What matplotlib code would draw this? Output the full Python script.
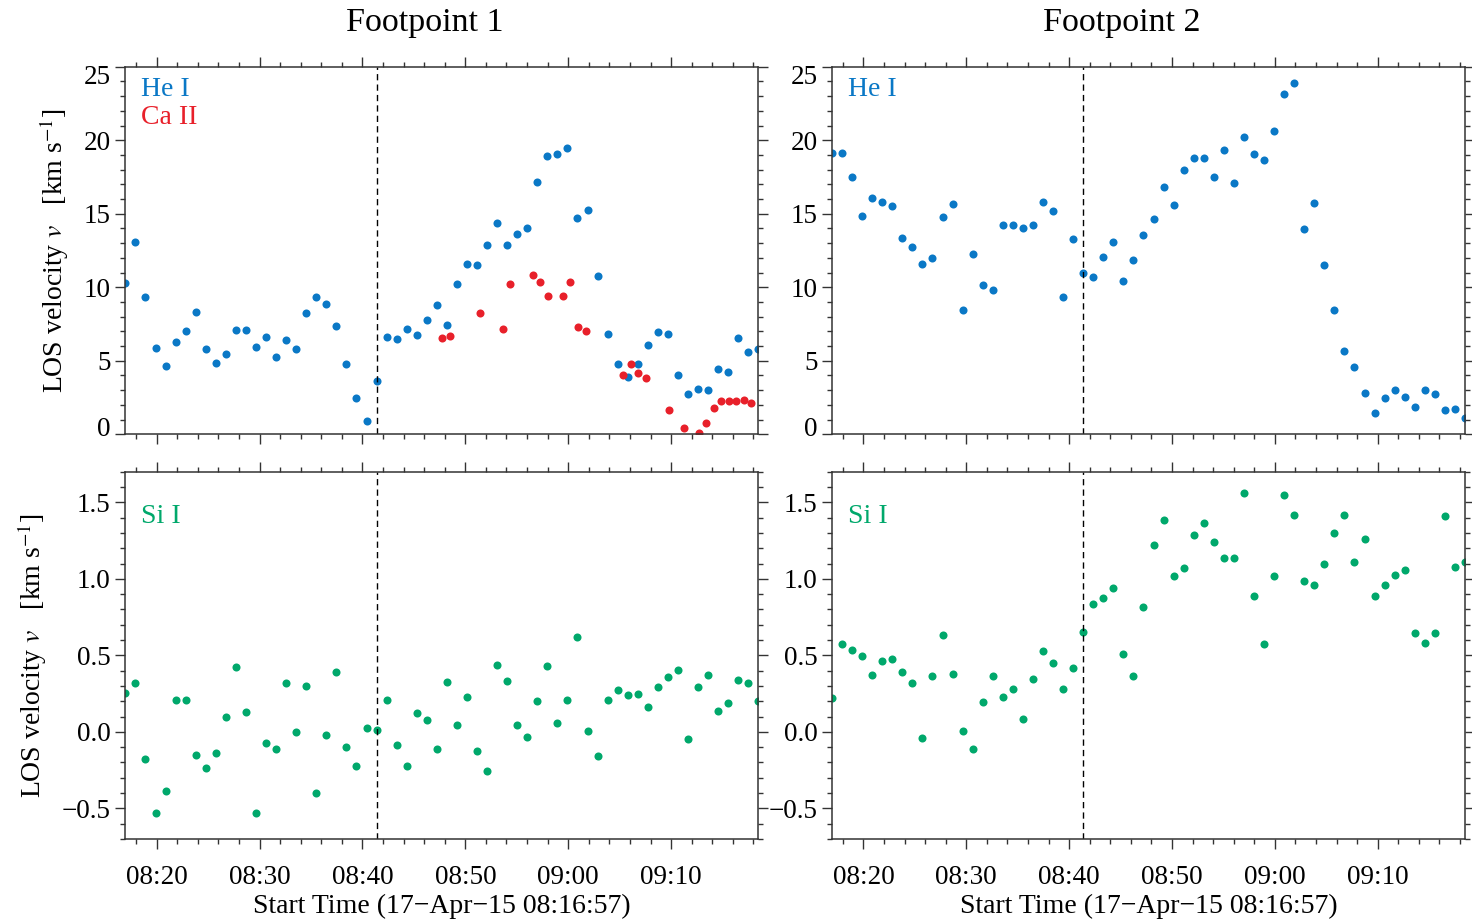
import numpy as np
import pandas as pd
import matplotlib

matplotlib.use("Agg")
import matplotlib.pyplot as plt
import matplotlib.dates as mdates
from matplotlib.ticker import MultipleLocator, FuncFormatter
from matplotlib.transforms import ScaledTranslation

plt.rcParams["font.family"] = ["Liberation Serif", "DejaVu Serif"]
plt.rcParams["mathtext.fontset"] = "stix"

# observation timing
start_time = "2015-04-17 08:16:57"
cadence_s = 58.6
ca_start_s = 1848.0
ca_cadence_s = 44.0
onset_index = 25

# Footpoint 1
he1_fp1 = [10.3, 13.1, 9.36, 5.86, 4.64, 6.27, 7.0, 8.3, 5.82, 4.86, 5.48, 7.07, 7.07,
           5.93, 6.64, 5.25, 6.41, 5.8, 8.25, 9.32, 8.89, 7.34, 4.75, 2.5, 0.91, 3.64,
           6.59, 6.45, 7.16, 6.75, 7.75, 8.8, 7.43, 10.25, 11.57, 11.52, 12.89, 14.39,
           12.89, 13.59, 14.05, 17.14, 18.93, 19.07, 19.45, 14.7, 15.25, 10.75, 6.82,
           4.77, 3.89, 4.8, 6.09, 6.93, 6.84, 4.05, 2.73, 3.05, 3.0, 4.43, 4.23, 6.52,
           5.59, 5.77]
nan = np.nan
ca2_fp1 = [6.57, 6.66, nan, nan, nan, 8.27, nan, nan, 7.16, 10.23, nan, nan, 10.8,
           10.36, 9.39, nan, 9.39, 10.36, 7.27, 7.0, nan, nan, nan, nan, 4.05, 4.75,
           4.18, 3.82, nan, nan, 1.68, nan, 0.41, nan, 0.07, 0.75, 1.8, 2.27, 2.27,
           2.25, 2.36, 2.16]
si1_fp1 = [0.257, 0.317, -0.174, -0.528, -0.387, 0.207, 0.207, -0.154, -0.237, -0.141,
           0.098, 0.424, 0.128, -0.533, -0.074, -0.115, 0.322, -0.004, 0.298, -0.4,
           -0.022, 0.391, -0.098, -0.22, 0.028, 0.011, 0.211, -0.083, -0.226, 0.126,
           0.08, -0.109, 0.328, 0.043, 0.228, -0.124, -0.254, 0.435, 0.33, 0.048,
           -0.035, 0.204, 0.43, 0.059, 0.209, 0.617, 0.004, -0.157, 0.211, 0.276,
           0.243, 0.25, 0.161, 0.296, 0.357, 0.407, -0.046, 0.296, 0.372, 0.139,
           0.187, 0.339, 0.317, 0.2]

# Footpoint 2
he1_fp2 = [19.16, 19.11, 17.52, 14.82, 16.07, 15.82, 15.55, 13.32, 12.75, 11.59, 12.0,
           14.77, 15.68, 8.45, 12.25, 10.18, 9.82, 14.23, 14.23, 14.0, 14.23, 15.8,
           15.2, 9.32, 13.25, 11.0, 10.68, 12.05, 13.09, 10.45, 11.84, 13.55, 14.61,
           16.82, 15.57, 17.98, 18.82, 18.82, 17.52, 19.36, 17.07, 20.25, 19.09, 18.68,
           20.64, 23.16, 23.89, 13.95, 15.7, 11.5, 8.45, 5.66, 4.57, 2.82, 1.45, 2.5,
           2.98, 2.57, 1.89, 2.98, 2.75, 1.66, 1.75, 1.11]
si1_fp2 = [0.22, 0.574, 0.535, 0.496, 0.372, 0.461, 0.478, 0.391, 0.317, -0.037, 0.365,
           0.633, 0.376, 0.007, -0.113, 0.193, 0.363, 0.226, 0.278, 0.087, 0.346, 0.53,
           0.452, 0.28, 0.415, 0.652, 0.835, 0.876, 0.943, 0.511, 0.367, 0.815, 1.224,
           1.383, 1.017, 1.07, 1.287, 1.367, 1.239, 1.139, 1.135, 1.559, 0.885, 0.574,
           1.02, 1.55, 1.415, 0.983, 0.961, 1.096, 1.298, 1.415, 1.111, 1.261, 0.891,
           0.959, 1.024, 1.059, 0.648, 0.583, 0.643, 1.411, 1.08, 1.107]

BLUE = "#0a78c6"
RED = "#e8202a"
GREEN = "#00a86b"
FS_TICK = 19.5
FS = 20

t0 = pd.Timestamp(start_time)
times = np.asarray(t0 + pd.to_timedelta(np.arange(len(he1_fp1)) * cadence_s, unit="s"))
ca_times = np.asarray(t0 + pd.to_timedelta(ca_start_s + np.arange(len(ca2_fp1)) * ca_cadence_s, unit="s"))

fig = plt.figure(figsize=(14.72, 9.19), dpi=100)
W, H = 1472.0, 919.0


def make_axes(x0, x1, y0, y1):
    return fig.add_axes([x0 / W, 1 - y1 / H, (x1 - x0) / W, (y1 - y0) / H])


ax_tl = make_axes(125.4, 758.3, 66.7, 434.3)
ax_bl = make_axes(125.4, 758.3, 471.7, 839.0)
ax_tr = make_axes(832.0, 1465.0, 66.7, 434.3)
ax_br = make_axes(832.0, 1465.0, 471.7, 839.0)


def dots(ax, x, y, color):
    ax.plot(x, y, linestyle="none", marker="o", ms=5.8, mew=0, color=color)


dots(ax_tl, times, he1_fp1, BLUE)
dots(ax_tl, ca_times, ca2_fp1, RED)
dots(ax_bl, times, si1_fp1, GREEN)
dots(ax_tr, times, he1_fp2, BLUE)
dots(ax_br, times, si1_fp2, GREEN)

for ax in (ax_tl, ax_bl, ax_tr, ax_br):
    ax.set_xlim(times[0], times[-1])
    ax.axvline(times[onset_index], color="k", lw=1.0, linestyle=(0, (4.5, 3)))
    ax.xaxis.set_major_locator(mdates.MinuteLocator(byminute=range(0, 60, 10)))
    ax.xaxis.set_minor_locator(mdates.MinuteLocator(byminute=range(0, 60, 2)))
    ax.xaxis.set_major_formatter(mdates.DateFormatter("%H:%M"))
    ax.tick_params(which="both", direction="out", top=True, right=True,
                   labelsize=FS_TICK, width=1.0, color="#333333")
    ax.tick_params(which="major", length=7)
    ax.tick_params(which="minor", length=3.5)
    for sp in ax.spines.values():
        sp.set_linewidth(1.1)
        sp.set_color("#333333")

for ax in (ax_tl, ax_tr):
    ax.set_ylim(0, 25)
    ax.set_yticks(range(0, 26, 5))
    ax.yaxis.set_minor_locator(MultipleLocator(1))
    ax.tick_params(labelbottom=False)
    ticks = ax.yaxis.get_major_ticks()
    ticks[0].label1.set_transform(ticks[0].label1.get_transform()
                                  + ScaledTranslation(0, 5.5 / 72, fig.dpi_scale_trans))
    ticks[-1].label1.set_transform(ticks[-1].label1.get_transform()
                                   + ScaledTranslation(0, -5.5 / 72, fig.dpi_scale_trans))

for ax in (ax_bl, ax_br):
    ax.set_ylim(-0.7, 1.7)
    ax.set_yticks([-0.5, 0.0, 0.5, 1.0, 1.5])
    ax.yaxis.set_major_formatter(FuncFormatter(lambda v, _: f"{v:.1f}".replace("-", "\u2212")))
    ax.yaxis.set_minor_locator(MultipleLocator(0.1))
    ax.tick_params(axis="x", pad=12)
    ax.set_xlabel("Start Time (17\u2212Apr\u221215 08:16:57)", fontsize=FS, labelpad=2.5)

ylabel = r"LOS velocity $v$   [km s$^{-1}$]"
ax_tl.set_ylabel(ylabel, fontsize=FS, labelpad=9)
ax_bl.set_ylabel(ylabel, fontsize=FS, labelpad=9)

ax_tl.text(0.025, 0.939, "He I", transform=ax_tl.transAxes, color=BLUE, fontsize=FS, va="center")
ax_tl.text(0.025, 0.863, "Ca II", transform=ax_tl.transAxes, color=RED, fontsize=FS, va="center")
ax_tr.text(0.025, 0.939, "He I", transform=ax_tr.transAxes, color=BLUE, fontsize=FS, va="center")
ax_bl.text(0.025, 0.879, "Si I", transform=ax_bl.transAxes, color=GREEN, fontsize=FS, va="center")
ax_br.text(0.025, 0.879, "Si I", transform=ax_br.transAxes, color=GREEN, fontsize=FS, va="center")

fig.text(425 / W, 1 - 23 / H, "Footpoint 1", fontsize=24.5, ha="center", va="center")
fig.text(1122 / W, 1 - 23 / H, "Footpoint 2", fontsize=24.5, ha="center", va="center")

fig.savefig("out.png", dpi=100)
